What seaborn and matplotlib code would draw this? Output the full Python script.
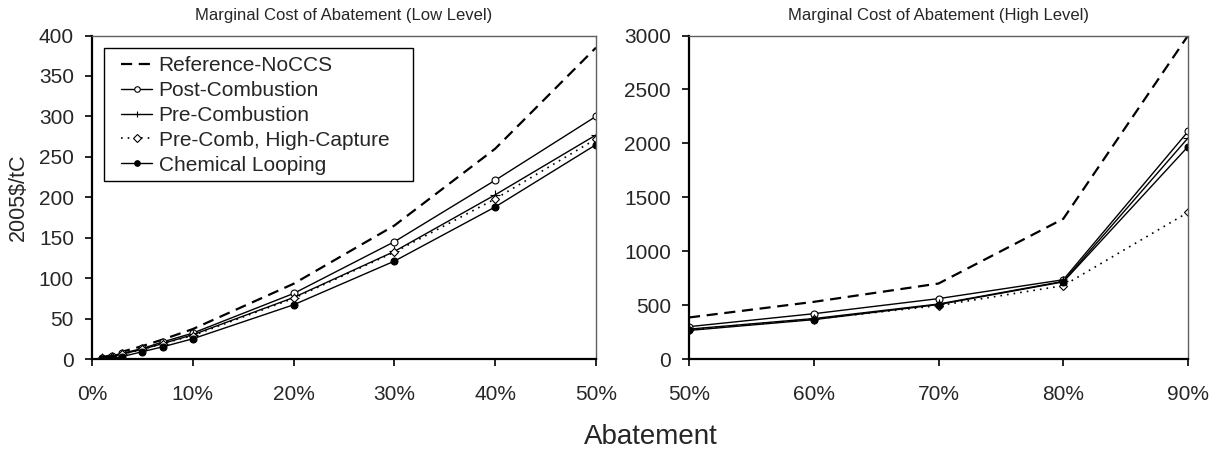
import pandas as pd
import seaborn as sns
import matplotlib.pyplot as plt
from matplotlib.patches import Rectangle
from matplotlib.ticker import FuncFormatter

# abatement levels (%)
low_x = [1, 2, 3, 5, 7, 10, 20, 30, 40, 50]
high_x = [50, 60, 70, 80, 90]

series_names = ["Reference-NoCCS", "Post-Combustion", "Pre-Combustion",
                "Pre-Comb, High-Capture", "Chemical Looping"]

# marginal cost, 2005$/tC
low_ref = [2, 5, 9, 16, 24, 37, 93, 165, 260, 385]
low_post = [1, 4, 7, 13, 21, 32, 81, 145, 221, 300]
low_pre = [1, 3, 6, 12, 19, 30, 76, 133, 203, 277]
low_hc = [1, 3, 6, 12, 19, 29, 75, 132, 198, 272]
low_chem = [0, 1, 3, 9, 15, 25, 67, 121, 188, 265]

high_ref = [385, 530, 700, 1300, 3000]
high_post = [300, 420, 560, 735, 2110]
high_pre = [277, 375, 510, 720, 2050]
high_hc = [272, 370, 495, 680, 1360]
high_chem = [265, 365, 505, 715, 1970]

styles = {
    "Reference-NoCCS": dict(linestyle=(0, (5, 3)), marker=None, lw=1.6, ms=0),
    "Post-Combustion": dict(linestyle="-", marker="o", mfc="white", lw=1.0, ms=5),
    "Pre-Combustion": dict(linestyle="-", marker="+", mfc="black", lw=1.0, ms=7),
    "Pre-Comb, High-Capture": dict(linestyle=(0, (1, 3)), marker="D", mfc="white", lw=1.2, ms=4),
    "Chemical Looping": dict(linestyle="-", marker="o", mfc="black", lw=1.0, ms=5),
}

sns.set_style("white")
plt.rcParams["font.family"] = ["Liberation Sans", "DejaVu Sans"]

fig = plt.figure(figsize=(12.21, 4.53), dpi=100)
ax1 = fig.add_axes([0.0753, 0.2075, 0.4128, 0.7141])
ax2 = fig.add_axes([0.5643, 0.2075, 0.4087, 0.7141])


def draw(ax, x, data):
    for name, y in zip(series_names, data):
        st = styles[name]
        sns.lineplot(x=x, y=y, ax=ax, color="black", linestyle=st["linestyle"],
                     linewidth=st["lw"], marker=st["marker"],
                     markerfacecolor=st["mfc"] if st["marker"] else "black",
                     markeredgecolor="black", markersize=st["ms"],
                     markeredgewidth=0.8, label=name)


draw(ax1, low_x, [low_ref, low_post, low_pre, low_hc, low_chem])
draw(ax2, high_x, [high_ref, high_post, high_pre, high_hc, high_chem])

pct = FuncFormatter(lambda v, p: f"{v:.0f}%")
ax1.set_xlim(0, 50)
ax1.set_ylim(0, 400)
ax1.set_xticks(range(0, 51, 10))
ax1.set_yticks(range(0, 401, 50))
ax2.set_xlim(50, 90)
ax2.set_ylim(0, 3000)
ax2.set_xticks(range(50, 91, 10))
ax2.set_yticks(range(0, 3001, 500))

for ax in (ax1, ax2):
    ax.xaxis.set_major_formatter(pct)
    ax.tick_params(axis="both", direction="out", length=5, width=1.2,
                   labelsize=15, color="black", bottom=True, left=True)
    ax.tick_params(axis="x", pad=13.5)
    ax.tick_params(axis="y", pad=8)
    for side in ("left", "bottom"):
        ax.spines[side].set_color("black")
        ax.spines[side].set_linewidth(1.6)
    for side in ("top", "right"):
        ax.spines[side].set_color("#606060")
        ax.spines[side].set_linewidth(1.0)
    ax.set_xlabel("")

ax1.set_title("Marginal Cost of Abatement (Low Level)", fontsize=12, pad=11.5)
ax2.set_title("Marginal Cost of Abatement (High Level)", fontsize=12, pad=11.5)
ax1.set_ylabel("2005\\$/tC", fontsize=15.5, labelpad=7)

# legend without its own frame; a plain box is drawn around it
leg = ax1.legend(loc="upper left", bbox_to_anchor=(0.058, 0.936), fontsize=15,
                 frameon=False, handlelength=1.5, handletextpad=0.3,
                 borderpad=0, labelspacing=0.28, borderaxespad=0)
for h in leg.legend_handles:
    h.set_markersize(4)
ax1.add_patch(Rectangle((0.0238, 0.550), 0.613, 0.411, transform=ax1.transAxes,
                        fill=True, facecolor="white", edgecolor="black",
                        linewidth=1.0, zorder=4))
leg.set_zorder(5)
ax2.get_legend().remove()

fig.text(0.533, 0.035, "Abatement", ha="center", va="center", fontsize=20)

fig.savefig("out.png", dpi=100)
